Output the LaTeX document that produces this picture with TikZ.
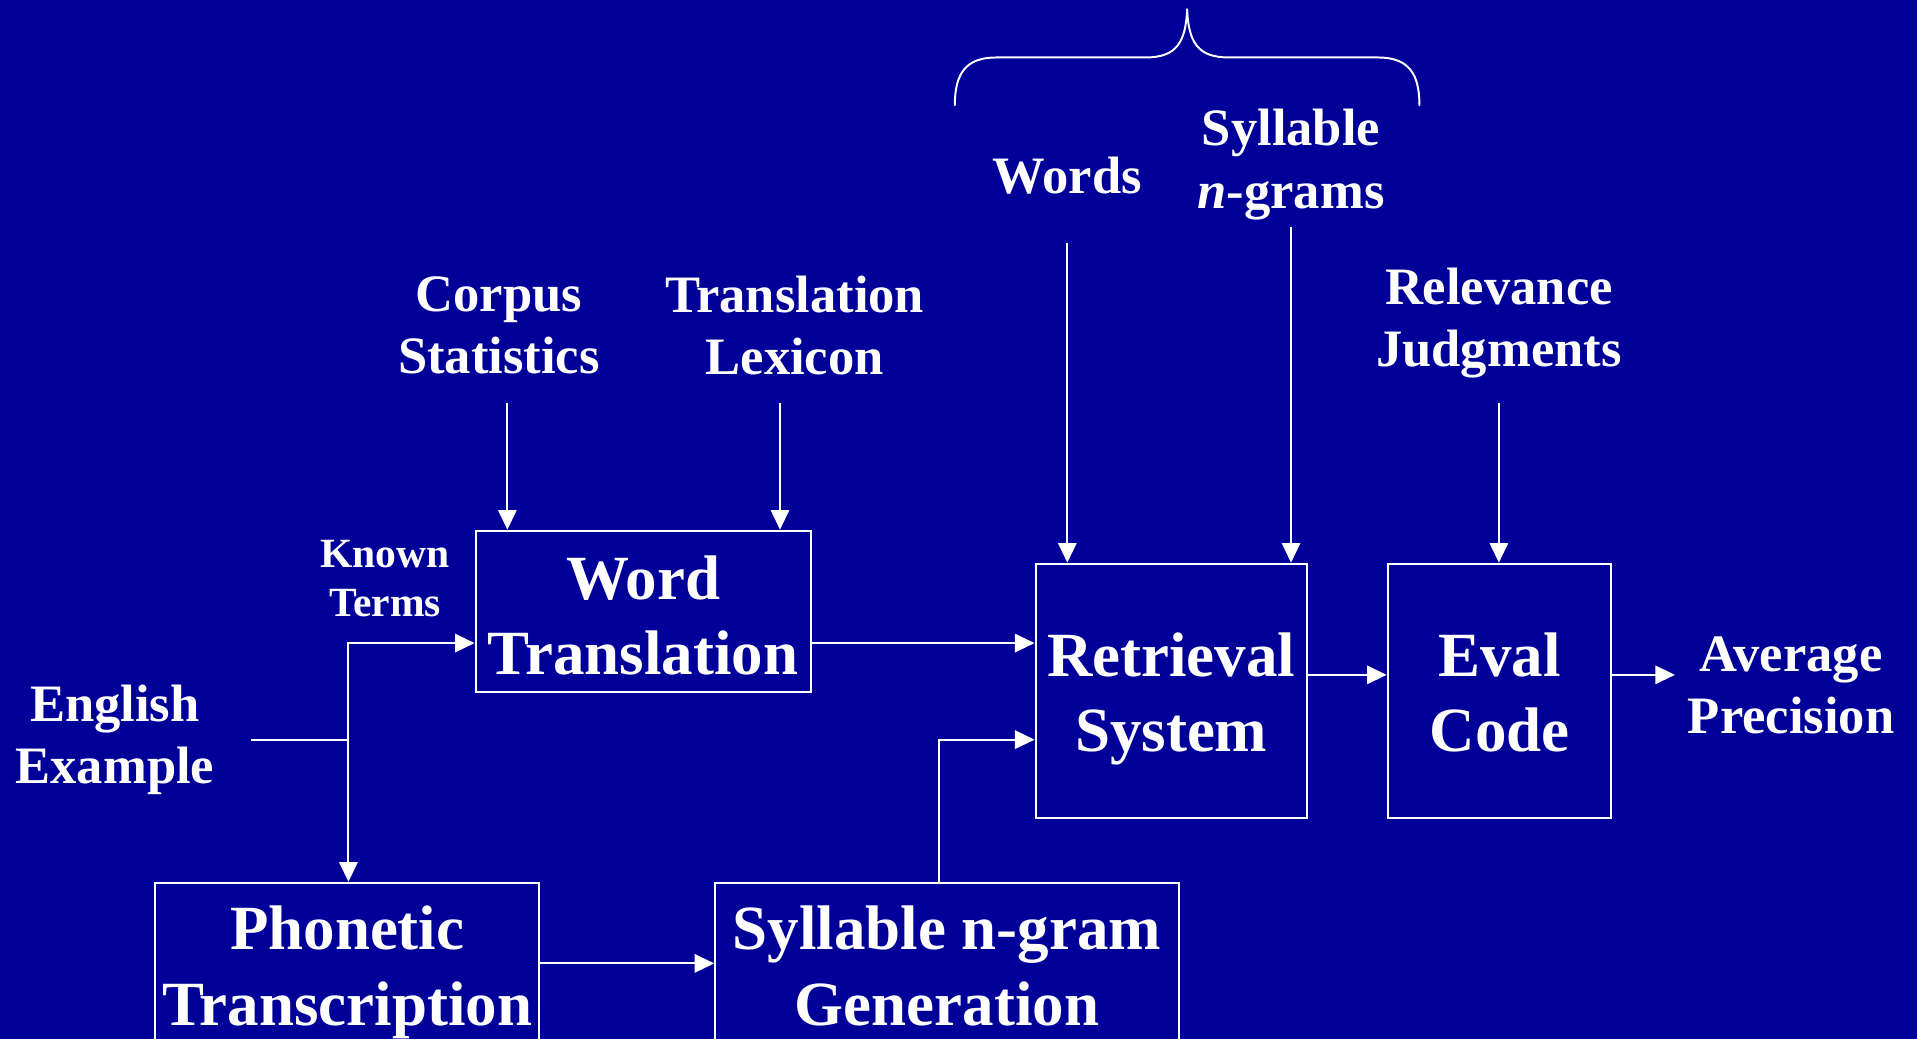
\documentclass[tikz,border=0pt]{standalone}
\usepackage{fontspec}
\setmainfont{Liberation Serif}
\usetikzlibrary{arrows.meta}
\definecolor{slideblue}{RGB}{0,0,153}
\newcommand{\flowBig}{\fontsize{51.5}{62}\selectfont\bfseries}
\newcommand{\flowMid}{\fontsize{43}{51}\selectfont\bfseries}
\newcommand{\flowSmall}{\fontsize{34}{40}\selectfont\bfseries}
% two-line stage text with invisible struts that fix where the baselines sit
\newcommand{\twolines}[4]{\rule{0pt}{#3pt}#1\\#2\rule[-#4pt]{0pt}{#4pt}}
\begin{document}
\begin{tikzpicture}[x=1pt,y=-1pt,
  every node/.style={text=white,align=center,inner sep=0pt},
  stagebox/.style={draw=white,line width=1.6pt,rectangle,font=\flowBig},
  inlabel/.style={font=\flowMid},
  smalllabel/.style={font=\flowSmall},
  wire/.style={draw=white,line width=1.6pt},
  flow/.style={wire,-{Triangle[length=16pt,width=15pt]}}
]
\useasboundingbox (0,0) rectangle (1568,850);
\fill[slideblue] (0,0) rectangle (1568,850);
\clip (0,0) rectangle (1568,850);

% processing stages
\node[stagebox,minimum width=274pt,minimum height=130pt] (wt) at (526,500)
  {\twolines{Word}{Translation}{56}{14}};
\node[stagebox,minimum width=222pt,minimum height=208pt] (rs) at (958,565)
  {\twolines{Retrieval}{System}{52}{14}};
\node[stagebox,minimum width=183pt,minimum height=208pt] (ec) at (1226.5,565)
  {\twolines{Eval}{Code}{52}{14}};
\node[stagebox,minimum width=314pt,minimum height=150pt] (pt) at (284,797)
  {\twolines{Phonetic}{Transcription}{38}{16}};
\node[stagebox,minimum width=379pt,minimum height=150pt] (sg) at (774.5,797)
  {\twolines{Syllable n-gram}{Generation}{38}{16}};

% resources and outputs
\node[inlabel] (cs) at (408,266) {Corpus\\Statistics};
\node[inlabel] (tl) at (650,266) {Translation\\Lexicon};
\node[inlabel] (wd) at (873,144) {Words};
\node[inlabel] (sn) at (1056,134.5) {Syllable\\\textit{n}-grams};
\node[inlabel] (rj) at (1226,264) {Relevance\\Judgments};
\node[inlabel] (ee) at (94,605) {English\\Example};
\node[inlabel] (ap) at (1465,560.5) {Average\\Precision};
\node[smalllabel] (kt) at (315,473.5) {Known\\Terms};

% start points of the feeding lines
\coordinate (cs-out) at (415,330);
\coordinate (tl-out) at (638,330);
\coordinate (wd-out) at (873,199);
\coordinate (sn-out) at (1056,186);
\coordinate (rj-out) at (1226,330);
\coordinate (ee-out) at (205,605);
\coordinate (split) at (285,605);
\coordinate (ap-in) at (1370,552);

% resources into the stages
\draw[flow] (cs-out) -- (cs-out |- wt.north);
\draw[flow] (tl-out) -- (tl-out |- wt.north);
\draw[flow] (wd-out) -- (wd-out |- rs.north);
\draw[flow] (sn-out) -- (sn-out |- rs.north);
\draw[flow] (rj-out) -- (rj-out |- ec.north);

% English example splits into known terms and phonetic path
\draw[wire] (ee-out) -- (split);
\draw[flow] (split) |- ([yshift=-26pt]wt.west);
\draw[flow] (split) -- (split |- pt.north);

% stage to stage
\draw[flow] ([yshift=-26pt]wt.east) -- ([yshift=-26pt]wt.east -| rs.west);
\draw[flow] ([yshift=9pt]pt.east) -- ([yshift=9pt]pt.east -| sg.west);
\draw[flow] ([xshift=-6.5pt]sg.north) |- ([yshift=-40pt]rs.west);
\draw[flow] ([yshift=13pt]rs.east) -- ([yshift=13pt]rs.east -| ec.west);
\draw[flow] (ec.east |- ap-in) -- (ap-in);

% brace grouping the two index types
\coordinate (brace-tip) at (971,7);
\draw[wire,line cap=round] (781,86) .. controls (781,60) and (790,47) .. (815,47)
  -- (937,47) .. controls (962,47) and (970,35) .. (brace-tip)
  .. controls (972,35) and (980,47) .. (1005,47)
  -- (1127,47) .. controls (1152,47) and (1161,60) .. (1161,86);
\end{tikzpicture}
\end{document}
